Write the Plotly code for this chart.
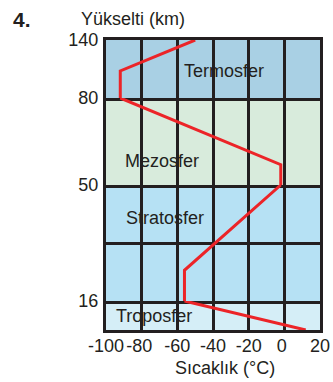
import plotly.graph_objects as go
from plotly.subplots import make_subplots

# ---- data ----
altitude_km = [0, 16, 25, 50, 57, 80, 108, 140]
temperature_c = [12, -56, -56, -2, -2, -92, -92, -50]

layer_names = ["Termosfer", "Mezosfer", "Stratosfer", "Troposfer"]
layer_bottom_km = [80, 50, 16, 0]
layer_top_km = [140, 80, 50, 16]
layer_colors = ["#a9d0e4", "#d8ebdc", "#b6e1f4", "#d5eef7"]
y_tick_values = [[80, 140], [50], [16, 33], []]
y_tick_labels = [["80", "140"], ["50"], ["16", ""], []]

x_tick_values = [-100, -80, -60, -40, -20, 0, 20]
x_tick_labels = ["-100", "-80\u00a0", "-60", "-40", "-20", "0\u00a0", "20"]

# ---- style ----
INK = "#231f20"
RED = "#ec2428"
FONT = "Liberation Sans, Arial, sans-serif"

fig = make_subplots(rows=4, cols=1, shared_xaxes=True, vertical_spacing=0,
                    row_heights=[2, 3, 4, 1])

for i in range(4):
    row = i + 1
    lo, hi = layer_bottom_km[i], layer_top_km[i]
    xs = [t for t, a in zip(temperature_c, altitude_km) if lo <= a <= hi]
    ys = [a for a in altitude_km if lo <= a <= hi]
    fig.add_trace(go.Scatter(x=xs, y=ys, mode="lines",
                             line=dict(color=RED, width=3),
                             showlegend=False, hoverinfo="skip"),
                  row=row, col=1)
    fig.update_yaxes(range=[lo, hi], tickmode="array",
                     tickvals=y_tick_values[i], ticktext=y_tick_labels[i],
                     showgrid=True, gridcolor=INK, gridwidth=3,
                     showline=True, linecolor=INK, linewidth=3, mirror=True,
                     zeroline=False, ticks="", layer="below traces",
                     ticklabelstandoff=1, automargin=False,
                     tickfont=dict(family=FONT, size=18, color=INK),
                     row=row, col=1)
    fig.update_xaxes(range=[-100, 20], tickmode="array",
                     tickvals=x_tick_values, ticktext=x_tick_labels,
                     showgrid=True, gridcolor=INK, gridwidth=3,
                     showline=True, linecolor=INK, linewidth=3,
                     mirror=(row == 1), tickangle=0, automargin=False,
                     zeroline=False, ticks="", layer="below traces",
                     showticklabels=(row == 4), ticklabelstandoff=-3,
                     tickfont=dict(family=FONT, size=18, color=INK),
                     row=row, col=1)
    suffix = "" if row == 1 else str(row)
    fig.add_shape(type="rect", xref=f"x{suffix} domain", yref=f"y{suffix} domain",
                  x0=0, x1=1, y0=0, y1=1, fillcolor=layer_colors[i],
                  line_width=0, layer="below")

label_pos = [(0.553, 0.893), (0.2625, 0.5825), (0.276, 0.387), (0.224, 0.047)]
for name, (px, py) in zip(layer_names, label_pos):
    fig.add_annotation(text=name, xref="paper", yref="paper", x=px, y=py,
                       showarrow=False, xanchor="center", yanchor="middle",
                       font=dict(family=FONT, size=18, color=INK))

fig.add_annotation(text="Sıcaklık (°C)", xref="paper", yref="paper",
                   x=0.556, y=0, yshift=-38, showarrow=False,
                   xanchor="center", yanchor="middle",
                   font=dict(family=FONT, size=18, color=INK))
fig.add_annotation(text="Yükselti (km)", xref="paper", yref="paper",
                   x=0, xshift=-27, y=1, yshift=21, showarrow=False,
                   xanchor="left", yanchor="middle",
                   font=dict(family=FONT, size=18, color=INK))
fig.add_annotation(text="<b>4.</b>", xref="paper", yref="paper",
                   x=0, xshift=-95, y=1, yshift=21, showarrow=False,
                   xanchor="left", yanchor="middle",
                   font=dict(family=FONT, size=21, color=INK))

fig.update_layout(width=333, height=382,
                  margin=dict(l=106, r=13, t=40, b=52),
                  paper_bgcolor="white", plot_bgcolor="rgba(0,0,0,0)",
                  showlegend=False)

fig.write_html("out.html", config={"displayModeBar": False},
               post_script="document.body.style.margin='0';")
